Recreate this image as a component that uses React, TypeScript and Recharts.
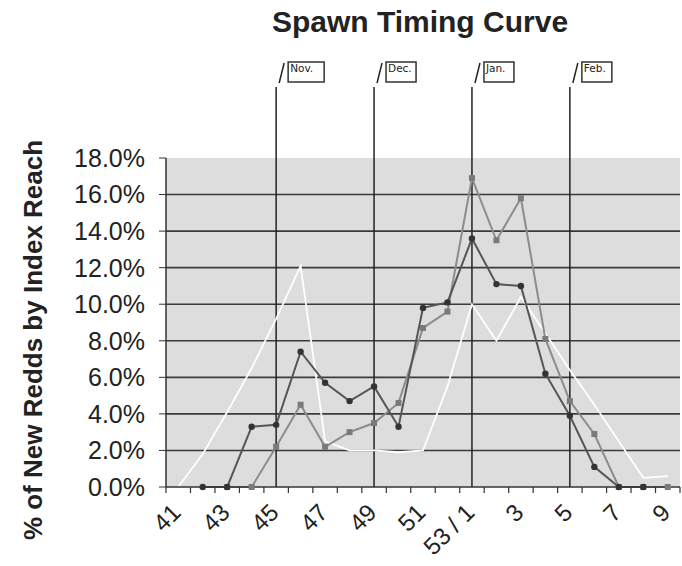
import React from 'react';
import { LineChart, Line, XAxis, YAxis, CartesianGrid, ReferenceLine } from 'recharts';

const CATEGORIES = ['41', '42', '43', '44', '45', '46', '47', '48', '49', '50', '51', '52', '53 / 1', '2', '3', '4', '5', '6', '7', '8', '9'];
const SERIES_DARK = [null, 0, 0, 3.3, 3.4, 7.4, 5.7, 4.7, 5.5, 3.3, 9.8, 10.1, 13.6, 11.1, 11.0, 6.2, 3.9, 1.1, 0, 0, null];
const SERIES_GRAY = [null, null, 0, 0, 2.2, 4.5, 2.2, 3.0, 3.5, 4.6, 8.7, 9.6, 16.9, 13.5, 15.8, 8.1, 4.7, 2.9, 0, 0, 0];
const SERIES_WHITE = [0, 1.8, 4.1, 6.5, 9.2, 12.1, 2.5, 2.0, 2.0, 1.9, 2.0, 5.5, 10.0, 8.0, 10.4, 8.4, 6.4, 4.5, 2.5, 0.5, 0.6];
const Y_TICKS = [0, 2, 4, 6, 8, 10, 12, 14, 16, 18];
const GRID_VALUES = [2, 4, 6, 8, 10, 12, 14, 16];
const MONTH_WEEKS = ['45', '49', '53 / 1', '5'];
const MONTH_LABELS = ['Nov.', 'Dec.', 'Jan.', 'Feb.'];
const TITLE = 'Spawn Timing Curve';
const Y_LABEL = '% of New Redds by Index Reach';

const data = CATEGORIES.map((c, i) => ({
  week: c,
  dark: SERIES_DARK[i],
  gray: SERIES_GRAY[i],
  white: SERIES_WHITE[i],
}));

const W = 682;
const H = 566;
const Y_AXIS_W = 166;
const RIGHT = 2;
const PLOT_W = W - Y_AXIS_W - RIGHT;
const PAD = PLOT_W / (2 * CATEGORIES.length);
const STEP = (PLOT_W - 2 * PAD) / (CATEGORIES.length - 1);
const FONT = '"Liberation Sans", Arial, sans-serif';

const XTick = (props: any) => {
  const { x, y, index, payload } = props;
  const isLast = index === CATEGORIES.length - 1;
  return (
    <g>
      <line x1={x - STEP / 2} x2={x - STEP / 2} y1={y} y2={y + 6} stroke="#333" strokeWidth={1.2} />
      {isLast && <line x1={x + STEP / 2} x2={x + STEP / 2} y1={y} y2={y + 6} stroke="#333" strokeWidth={1.2} />}
      {index % 2 === 0 && (
        <text
          x={x + 4}
          y={y + 27}
          textAnchor="end"
          transform={`rotate(-45, ${x + 4}, ${y + 27})`}
          fontSize={24}
          fontFamily={FONT}
          fill="#222"
        >
          {payload.value}
        </text>
      )}
    </g>
  );
};

const MonthTag = (props: any) => {
  const { viewBox, text, boxWidth } = props;
  if (!viewBox) return null;
  const x = viewBox.x;
  const top = viewBox.y;
  return (
    <g>
      <line x1={x} x2={x} y1={top - 71} y2={top} stroke="#222" strokeWidth={1.5} />
      <line x1={x + 3} x2={x + 8} y1={top - 75} y2={top - 95} stroke="#222" strokeWidth={1.5} />
      <rect x={x + 12} y={top - 96} width={boxWidth} height={20} fill="#fff" stroke="#333" strokeWidth={1.5} />
      <text x={x + 14} y={top - 86} fontSize={10.5} fontFamily='"DejaVu Sans", sans-serif' fill="#222">
        {text}
      </text>
    </g>
  );
};

const SquareDot = (props: any) => {
  const { cx, cy, value } = props;
  if (cx == null || cy == null || value == null) return null;
  return <rect x={cx - 3} y={cy - 3} width={6} height={6} fill="#7a7a7a" />;
};

const RoundDot = (props: any) => {
  const { cx, cy, value } = props;
  if (cx == null || cy == null || value == null) return null;
  return <circle cx={cx} cy={cy} r={3.2} fill="#333" />;
};

export default function App() {
  return (
    <div style={{ position: 'absolute', left: 0, top: 0, width: W, height: H, background: '#fff' }}>
      <LineChart width={W} height={H} data={data} margin={{ top: 158, right: RIGHT, bottom: 19, left: 0 }}>
        <CartesianGrid
          vertical={false}
          horizontalValues={GRID_VALUES}
          stroke="#3a3a3a"
          strokeWidth={1.6}
          fill="#dddddd"
          fillOpacity={1}
        />
        <XAxis
          dataKey="week"
          type="category"
          interval={0}
          height={60}
          padding={{ left: PAD, right: PAD }}
          tickSize={0}
          tickMargin={0}
          tickLine={false}
          tick={<XTick />}
          axisLine={{ stroke: '#333', strokeWidth: 1.5 }}
        />
        <YAxis
          width={Y_AXIS_W}
          domain={[0, 18]}
          ticks={Y_TICKS}
          interval={0}
          tickSize={7}
          tickMargin={14}
          tickFormatter={(v: number) => `${v.toFixed(1)}%`}
          tick={{ fontSize: 25, fontFamily: FONT, fill: '#222' }}
          tickLine={{ stroke: '#333' }}
          axisLine={{ stroke: '#333', strokeWidth: 1.5 }}
        />
        {MONTH_WEEKS.map((wk, i) => (
          <ReferenceLine
            key={wk}
            x={wk}
            stroke="#222"
            strokeWidth={1.5}
            ifOverflow="visible"
            label={<MonthTag text={MONTH_LABELS[i]} boxWidth={i === 0 ? 36 : 30} />}
          />
        ))}
        <Line dataKey="white" stroke="#ffffff" strokeWidth={1.8} dot={false} isAnimationActive={false} />
        <Line dataKey="gray" stroke="#8c8c8c" strokeWidth={2} dot={<SquareDot />} activeDot={false} isAnimationActive={false} />
        <Line dataKey="dark" stroke="#555" strokeWidth={2} dot={<RoundDot />} activeDot={false} isAnimationActive={false} />
      </LineChart>
      <svg width={W} height={H} style={{ position: 'absolute', left: 0, top: 0, pointerEvents: 'none' }}>
        <text x={420} y={32} textAnchor="middle" fontSize={30} fontWeight="bold" fontFamily={FONT} fill="#222">
          {TITLE}
        </text>
        <text
          x={42}
          y={340}
          textAnchor="middle"
          transform="rotate(-90, 42, 340)"
          fontSize={26}
          fontWeight="bold"
          fontFamily={FONT}
          fill="#222"
        >
          {Y_LABEL}
        </text>
      </svg>
    </div>
  );
}
